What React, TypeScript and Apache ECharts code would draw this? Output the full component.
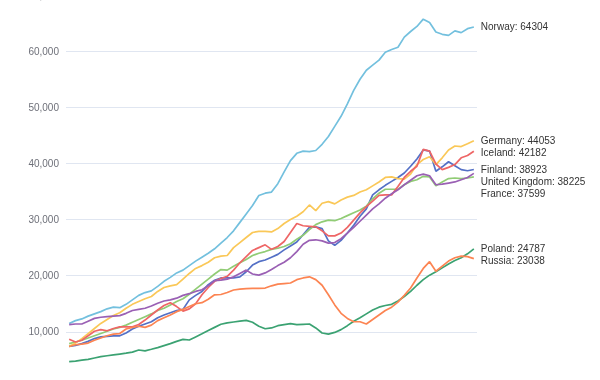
import React, { useEffect, useRef } from "react";
import * as echarts from "echarts";

const years: string[] = [];
for (let y = 1950; y <= 2014; y++) years.push(String(y));

const countries = ["Finland", "France", "Germany", "Iceland", "Norway", "Poland", "Russia", "United Kingdom"];
const palette = ["#5470c6", "#91cc75", "#fac858", "#ee6666", "#73c0de", "#3ba272", "#fc8452", "#9a60b4"];

const finland = [7400, 7600, 7900, 8300, 8800, 9100, 9200, 9300, 9300, 9800, 10500, 11000, 11400, 11800, 12500, 13000, 13400, 13800, 14000, 15700, 16500, 17200, 18400, 19200, 19600, 19600, 19600, 19800, 20700, 21900, 22500, 22800, 23300, 23800, 24600, 25300, 26000, 27300, 28600, 28700, 28400, 26200, 25400, 26300, 27600, 29000, 30600, 31900, 34400, 35300, 36100, 36800, 37500, 38300, 39500, 40800, 42400, 42200, 38600, 39400, 40300, 39600, 38900, 38700, 38923];
const france = [7900, 8200, 8500, 8900, 9300, 9700, 10100, 10500, 10800, 11200, 11700, 12200, 12700, 13200, 13800, 14200, 14800, 15400, 15900, 16700, 17600, 18500, 19400, 20300, 21100, 21000, 21700, 22300, 22900, 23600, 24000, 24300, 24700, 24900, 25200, 25700, 26500, 27200, 28200, 29100, 29600, 29900, 29800, 30200, 30700, 31200, 31700, 32400, 33700, 34700, 35400, 35400, 35400, 36200, 36800, 37100, 37700, 37600, 36000, 36700, 37300, 37400, 37300, 37400, 37599];
const germany = [7400, 8000, 8800, 9700, 10600, 11500, 12200, 12900, 13400, 14200, 14900, 15400, 15900, 16300, 17200, 17900, 18200, 18400, 19400, 20400, 21300, 21800, 22400, 23200, 23500, 23600, 25000, 25900, 26800, 27700, 27900, 27900, 27800, 28400, 29300, 30000, 30600, 31400, 32600, 31600, 32900, 33200, 32800, 33500, 34000, 34300, 34900, 35300, 36000, 36700, 37500, 37600, 37300, 37200, 38100, 39800, 40700, 41200, 39800, 41000, 42400, 43100, 43000, 43500, 44053];
const iceland = [8700, 8200, 8500, 9300, 10100, 10400, 10200, 10600, 10900, 10900, 10900, 11300, 12100, 13000, 13900, 14700, 15200, 14500, 13700, 14100, 15000, 16600, 17900, 19000, 19500, 19900, 21000, 22300, 23400, 24500, 25000, 25500, 24700, 25200, 26100, 27700, 29300, 28900, 28800, 28700, 28000, 27100, 27100, 27600, 28600, 29900, 31200, 32300, 33300, 34300, 34400, 34400, 35900, 37500, 38600, 39500, 42500, 42200, 39900, 38900, 39300, 39800, 41000, 41400, 42182];
const norway = [11500, 12000, 12300, 12800, 13200, 13600, 14100, 14400, 14300, 14900, 15700, 16500, 17000, 17300, 18100, 19000, 19700, 20500, 21000, 21800, 22600, 23300, 24000, 24800, 25800, 26800, 28000, 29500, 31000, 32500, 34300, 34700, 34900, 36400, 38500, 40500, 41800, 42200, 42100, 42300, 43400, 44800, 46600, 48400, 50600, 53000, 55000, 56600, 57500, 58400, 59800, 60300, 60700, 62500, 63500, 64400, 65700, 65100, 63400, 63000, 62800, 63600, 63300, 64000, 64304];
const poland = [4690, 4800, 4950, 5100, 5350, 5580, 5750, 5900, 6050, 6200, 6400, 6770, 6620, 6900, 7200, 7550, 7900, 8300, 8650, 8550, 9100, 9650, 10250, 10800, 11350, 11600, 11750, 11900, 12050, 11700, 11000, 10550, 10700, 11100, 11300, 11450, 11300, 11350, 11400, 10700, 9800, 9600, 9900, 10400, 11100, 11900, 12500, 13200, 13900, 14400, 14700, 14900, 15500, 16300, 17200, 18300, 19300, 20100, 20700, 21400, 22100, 22700, 23200, 23900, 24787];
const russia = [7400, 7700, 7800, 8000, 8500, 8900, 9300, 9600, 9700, 10500, 10800, 11000, 10800, 11200, 12000, 12500, 13000, 13600, 14000, 14500, 15000, 15200, 15800, 16600, 16650, 17000, 17450, 17600, 17700, 17760, 17760, 17800, 18200, 18500, 18600, 18700, 19300, 19600, 19800, 19300, 18300, 16600, 14800, 13300, 12400, 11800, 11800, 11400, 12200, 13000, 13800, 14400, 15300, 16500, 17800, 19600, 21300, 22500, 20800, 21700, 22600, 23200, 23500, 23400, 23038];
const unitedKingdom = [11300, 11400, 11400, 11900, 12400, 12600, 12700, 12800, 12900, 13300, 13800, 14000, 14200, 14600, 15100, 15500, 15700, 16000, 16500, 16800, 17200, 17500, 18200, 19100, 19200, 19400, 19800, 20400, 21000, 20300, 20100, 20500, 21100, 21800, 22400, 23200, 24300, 25600, 26300, 26400, 26200, 25800, 25900, 26600, 27600, 28600, 29700, 30800, 31900, 32800, 33800, 34600, 35300, 36200, 37000, 37800, 38100, 37800, 36200, 36300, 36500, 36700, 37100, 37500, 38225];

const seriesData = [finland, france, germany, iceland, norway, poland, russia, unitedKingdom];
const FONT = "Liberation Sans, Arial, sans-serif";

export default function App() {
  const ref = useRef<HTMLDivElement>(null);
  useEffect(() => {
    if (!ref.current) return;
    const chart = echarts.init(ref.current, null, { renderer: "svg" });
    chart.setOption({
      animation: false,
      color: palette,
      textStyle: { fontFamily: FONT },
      grid: { left: 66, right: 123, top: -5, bottom: -8, containLabel: false, outerBoundsMode: "none" },
      xAxis: {
        type: "category",
        data: years,
        axisLabel: { show: false },
        axisTick: { show: false },
        axisLine: { show: false },
      },
      yAxis: {
        type: "value",
        min: 0,
        max: 70000,
        interval: 10000,
        axisLabel: { color: "#6E7079", fontSize: 10, margin: 7, fontFamily: FONT },
        splitLine: { lineStyle: { color: "#E0E6F1" } },
      },
      series: countries.map((name, i) => ({
        type: "line",
        name,
        data: seriesData[i],
        showSymbol: false,
        lineStyle: { width: 1.7 },
        endLabel: {
          show: true,
          color: "#333",
          fontSize: 10,
          lineHeight: 12,
          distance: 7,
          fontFamily: FONT,
          formatter: (p: any) => p.seriesName + ": " + p.value,
        },
        labelLayout: { moveOverlap: "shiftY" },
      })),
    });
    return () => chart.dispose();
  }, []);
  return <div ref={ref} style={{ position: "fixed", left: 0, top: 0, width: 600, height: 380 }} />;
}
